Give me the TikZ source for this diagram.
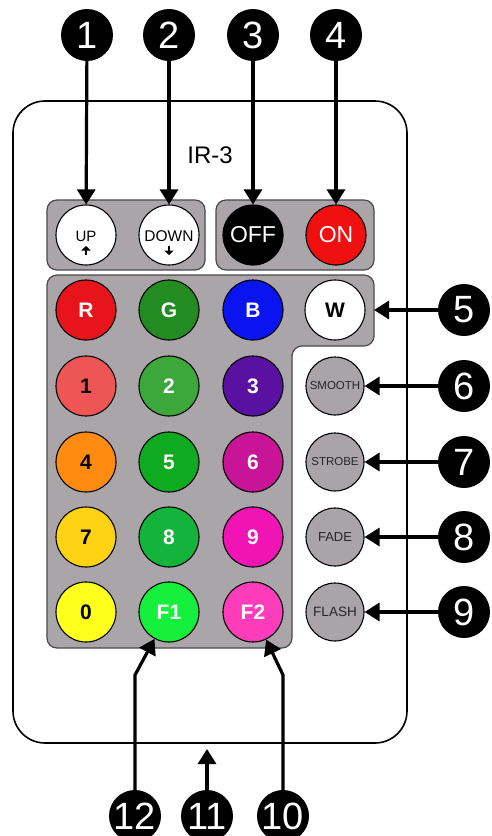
\documentclass[tikz,border=0pt]{standalone}
\usepackage{fontspec}
\setmainfont{Liberation Sans}
\usetikzlibrary{arrows.meta}
\definecolor{panelgray}{HTML}{A9A5A9}
\definecolor{panelline}{HTML}{4A4A4A}
\definecolor{sidegray}{HTML}{A8A4A8}
\definecolor{cR}{HTML}{E8141C}
\definecolor{cG}{HTML}{228B22}
\definecolor{cB}{HTML}{0A14F0}
\definecolor{c1}{HTML}{F05555}
\definecolor{c2}{HTML}{3CA83C}
\definecolor{c3}{HTML}{5A10A0}
\definecolor{c4}{HTML}{FF8C10}
\definecolor{c5}{HTML}{10AA20}
\definecolor{c6}{HTML}{C81496}
\definecolor{c7}{HTML}{FFD214}
\definecolor{c8}{HTML}{14B43C}
\definecolor{c9}{HTML}{F014B4}
\definecolor{c0}{HTML}{FFFF1E}
\definecolor{cF1}{HTML}{14F03C}
\definecolor{cF2}{HTML}{FF3CB9}
\definecolor{cON}{HTML}{F01010}
\begin{document}
\begin{tikzpicture}[x=1pt,y=-1pt,
  panel/.style={fill=panelgray, draw=panelline, line width=1.2pt, rounded corners=10pt},
  btn/.style={circle, draw=black, line width=1.1pt, minimum size=60pt, inner sep=0pt, font=\bfseries\fontsize{21}{21}\selectfont},
  topbtn/.style={circle, draw=black, line width=1.1pt, minimum size=60pt, inner sep=0pt},
  sbtn/.style={circle, draw=black, line width=1.1pt, minimum size=58pt, inner sep=0pt, fill=sidegray, text=black!85},
  callout/.style={circle, fill=black, minimum size=52pt, inner sep=0pt, text=white, font=\fontsize{38}{38}\selectfont},
  arr/.style={line width=3.2pt, -{Triangle[length=15pt,width=18pt]}},
  glyph/.style={line width=2.4pt, -{Triangle[length=4.5pt,width=9pt]}}
]
\useasboundingbox (0,0) rectangle (492,836);

% remote body
\draw[line width=1.6pt, rounded corners=32pt] (13,101) rectangle (407,743);
\node[font=\fontsize{24}{24}\selectfont] (title) at (210,155) {IR-3};

% panels
\draw[panel] (47,200) rectangle (205,270);
\draw[panel] (216,200) rectangle (374,270);
\draw[panel] (200,275) -- (374,275) -- (374,346) -- (292,346) -- (292,648) -- (47,648) -- (47,275) -- cycle;

% top buttons
\node[topbtn, fill=white] (up) at (86,235) {};
\node[font=\fontsize{15}{15}\selectfont] (uptxt) at (86,236) {UP};
\draw[glyph] (86,255) -- (86,246);
\node[topbtn, fill=white] (down) at (169,235) {};
\node[font=\fontsize{15.5}{15.5}\selectfont] (downtxt) at (169,236) {DOWN};
\draw[glyph] (169,246) -- (169,255);
\node[topbtn, fill=black, text=white, font=\fontsize{23}{23}\selectfont] (off) at (253,235) {OFF};
\node[topbtn, fill=cON, text=white, font=\fontsize{23}{23}\selectfont] (on) at (336,235) {ON};

% colour grid
\node[btn, fill=cR, text=white] (r) at (86,310) {R};
\node[btn, fill=cG, text=white] (g) at (169,310) {G};
\node[btn, fill=cB, text=white] (b) at (253,310) {B};
\node[btn, fill=white, text=black] (w) at (335,310) {W};

\node[btn, fill=c1, text=black] (k1) at (86,386) {1};
\node[btn, fill=c2, text=white] (k2) at (169,386) {2};
\node[btn, fill=c3, text=white] (k3) at (253,386) {3};

\node[btn, fill=c4, text=black] (k4) at (86,462) {4};
\node[btn, fill=c5, text=white] (k5) at (169,462) {5};
\node[btn, fill=c6, text=white] (k6) at (253,462) {6};

\node[btn, fill=c7, text=black] (k7) at (86,537) {7};
\node[btn, fill=c8, text=white] (k8) at (169,537) {8};
\node[btn, fill=c9, text=white] (k9) at (253,537) {9};

\node[btn, fill=c0, text=black] (k0) at (86,612) {0};
\node[btn, fill=cF1, text=white] (f1) at (169,612) {F1};
\node[btn, fill=cF2, text=white] (f2) at (253,612) {F2};

% side buttons
\node[sbtn, font=\fontsize{11.5}{11.5}\selectfont] (smooth) at (335,386) {SMOOTH};
\node[sbtn, font=\fontsize{11.5}{11.5}\selectfont] (strobe) at (335,462) {STROBE};
\node[sbtn, font=\fontsize{13}{13}\selectfont] (fade) at (335,537) {FADE};
\node[sbtn, font=\fontsize{13.5}{13.5}\selectfont] (flash) at (335,612) {FLASH};

% callouts
\node[callout] (n1) at (87,35) {1};
\node[callout] (n2) at (169,35) {2};
\node[callout] (n3) at (253,35) {3};
\node[callout] (n4) at (336,35) {4};
\node[callout] (n5) at (464,310) {5};
\node[callout] (n6) at (464,386) {6};
\node[callout] (n7) at (464,462) {7};
\node[callout] (n8) at (464,537) {8};
\node[callout] (n9) at (464,612) {9};
\node[callout] (n12) at (135,816) {12};
\node[callout] (n11) at (207,816) {11};
\node[callout] (n10) at (283,816) {10};

% connectors
\coordinate (p5) at (374,310);
\coordinate (b12) at (135,675);
\coordinate (b10) at (283,675);
\coordinate (t11) at (207,749);

\draw[arr] (n1) -- (up);
\draw[arr] (n2) -- (down);
\draw[arr] (n3) -- (off);
\draw[arr] (n4) -- (on);
\draw[arr] (n5) -- (p5);
\draw[arr] (n6) -- (smooth);
\draw[arr] (n7) -- (strobe);
\draw[arr] (n8) -- (fade);
\draw[arr] (n9) -- (flash);
\draw[arr] (n12) -- (b12) -- (f1);
\draw[arr] (n10) -- (b10) -- (f2);
\draw[arr] (n11) -- (t11);
\end{tikzpicture}
\end{document}
